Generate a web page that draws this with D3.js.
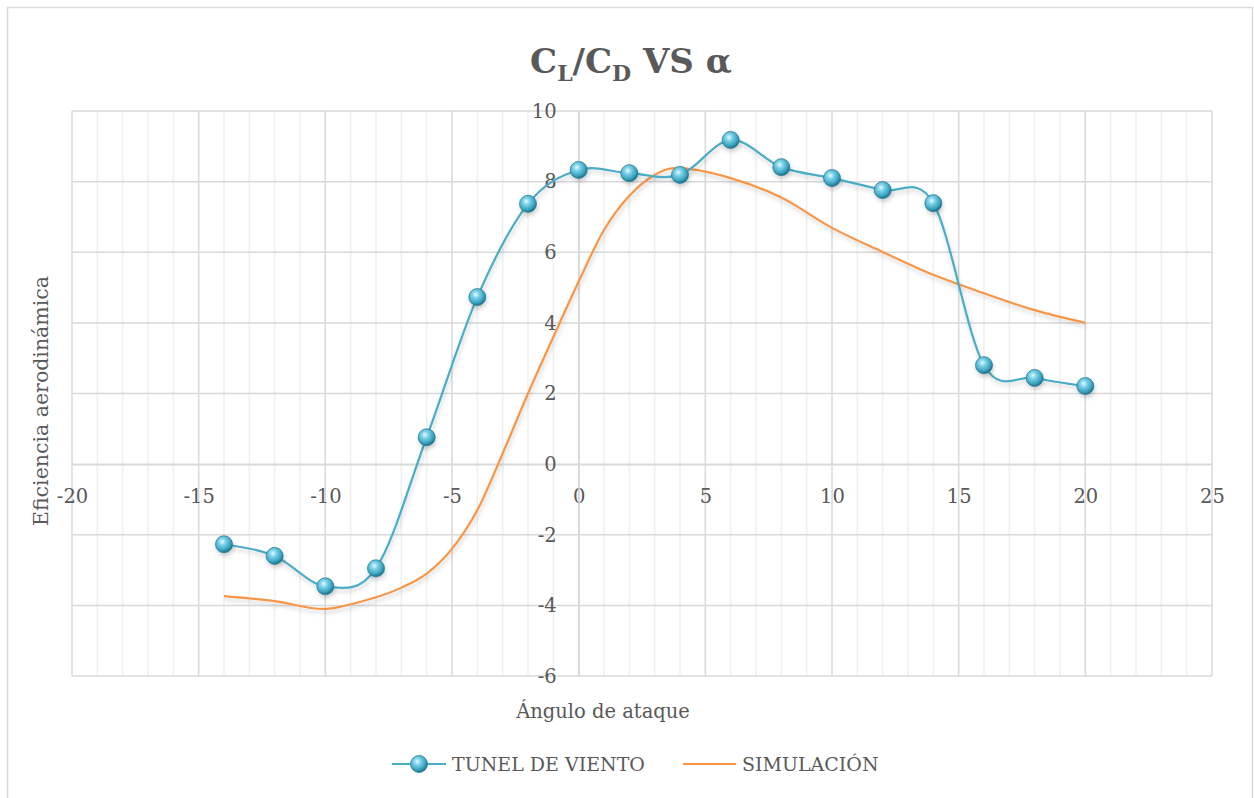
<!DOCTYPE html>
<html><head><meta charset="utf-8">
<script src="https://d3js.org/d3.v7.min.js"></script>
<style>body{margin:0;background:#fff}svg{display:block}</style>
</head><body>
<svg id="c" width="1254" height="798"></svg>
<script>
const tunelX = [-14,-12,-10,-8,-6,-4,-2,0,2,4,6,8,10,12,14,16,18,20];
const tunelY = [-2.27,-2.6,-3.46,-2.95,0.76,4.73,7.37,8.33,8.24,8.19,9.18,8.41,8.1,7.76,7.39,2.8,2.44,2.21];
const simX = [-14,-12,-10,-8,-7,-6,-5,-4,-3,-2,-1,0,1,2,3,4,6,8,10,12,14,16,18,20];
const simY = [-3.74,-3.88,-4.1,-3.77,-3.5,-3.1,-2.4,-1.3,0.3,2.0,3.6,5.17,6.63,7.6,8.19,8.38,8.1,7.55,6.69,6.01,5.36,4.84,4.36,4.0];
const xTicks = [-20,-15,-10,-5,0,5,10,15,20,25];
const yTicks = [-6,-4,-2,0,2,4,6,8,10];
const seriesNames = ["TUNEL DE VIENTO","SIMULACIÓN"];
const colors = ["#4BACC6","#F79646"];

const FONT = "'DejaVu Serif', serif";
const FS = 19.5;
const svg = d3.select("#c");
const L=72,R=1212,T=111,B=676;
const x = d3.scaleLinear().domain([-20,25]).range([L,R]);
const y = d3.scaleLinear().domain([-6,10]).range([B,T]);

svg.append("rect").attr("x",7.5).attr("y",7.5).attr("width",1245).attr("height",800)
  .attr("fill","#fff").attr("stroke","#d9d9d9").attr("stroke-width",1.5);

const defs = svg.append("defs");
const rg = defs.append("radialGradient").attr("id","ball").attr("cx","40%").attr("cy","35%").attr("r","65%");
rg.append("stop").attr("offset","0%").attr("stop-color","#e8fbff");
rg.append("stop").attr("offset","30%").attr("stop-color","#7fd3ea");
rg.append("stop").attr("offset","75%").attr("stop-color","#3aa3c0");
rg.append("stop").attr("offset","100%").attr("stop-color","#1d6f86");
const sh = defs.append("filter").attr("id","sh").attr("x","-20%").attr("y","-20%").attr("width","140%").attr("height","160%");
sh.append("feDropShadow").attr("dx",1).attr("dy",3).attr("stdDeviation",2).attr("flood-color","#000").attr("flood-opacity",0.18);

const minor = d3.range(-20,26,1).filter(v=>v%5!==0);
svg.append("g").selectAll("line").data(minor).join("line")
  .attr("x1",d=>x(d)).attr("x2",d=>x(d)).attr("y1",T).attr("y2",B)
  .attr("stroke","#efefef").attr("stroke-width",1.5);
svg.append("g").selectAll("line").data(xTicks).join("line")
  .attr("x1",d=>x(d)).attr("x2",d=>x(d)).attr("y1",T).attr("y2",B)
  .attr("stroke","#d9d9d9").attr("stroke-width",1.5);
svg.append("g").selectAll("line").data(yTicks).join("line")
  .attr("x1",L).attr("x2",R).attr("y1",d=>y(d)).attr("y2",d=>y(d))
  .attr("stroke","#d9d9d9").attr("stroke-width",1.5);

const fmt = d => String(d);
const xAxis = d3.axisBottom(x).tickValues(xTicks).tickFormat(fmt).tickSize(0).tickPadding(25);
const gx = svg.append("g").attr("transform",`translate(0,${y(0)})`).call(xAxis);
gx.select(".domain").attr("stroke","#d9d9d9").attr("stroke-width",1.5);
gx.selectAll("text").attr("font-family",FONT).attr("font-size",FS).attr("fill","#595959");
const yAxis = d3.axisLeft(y).tickValues(yTicks).tickFormat(fmt).tickSize(0).tickPadding(22);
const gy = svg.append("g").attr("transform",`translate(${x(0)},0)`).call(yAxis);
gy.select(".domain").attr("stroke","#d9d9d9").attr("stroke-width",1.5);
gy.selectAll("text").attr("font-family",FONT).attr("font-size",FS).attr("fill","#595959");

const line = d3.line().x(d=>x(d[0])).y(d=>y(d[1])).curve(d3.curveCardinal.tension(0));
const tunel = tunelX.map((v,i)=>[v,tunelY[i]]);
const sim = simX.map((v,i)=>[v,simY[i]]);
svg.append("path").datum(sim).attr("d",line).attr("fill","none").attr("stroke",colors[1]).attr("stroke-width",2.2).attr("filter","url(#sh)");
svg.append("path").datum(tunel).attr("d",line).attr("fill","none").attr("stroke",colors[0]).attr("stroke-width",2.2).attr("filter","url(#sh)");
svg.append("g").selectAll("circle").data(tunel).join("circle")
  .attr("cx",d=>x(d[0])).attr("cy",d=>y(d[1])).attr("r",8.5)
  .attr("fill","url(#ball)").attr("stroke","#2a7f96").attr("stroke-width",0.8).attr("filter","url(#sh)");

const title = svg.append("text").attr("x",631).attr("y",73).attr("text-anchor","middle")
  .attr("font-family",FONT).attr("font-weight","bold").attr("font-size",34).attr("fill","#595959");
title.append("tspan").text("C");
title.append("tspan").text("L").attr("font-size",22).attr("dy",8);
title.append("tspan").text("/C").attr("dy",-8);
title.append("tspan").text("D").attr("font-size",22).attr("dy",8);
title.append("tspan").text(" VS α").attr("dy",-8);

svg.append("text").attr("x",603).attr("y",718).attr("text-anchor","middle")
  .attr("font-family",FONT).attr("font-size",FS).attr("fill","#595959").text("Ángulo de ataque");
svg.append("text").attr("transform","translate(48,401) rotate(-90)").attr("text-anchor","middle")
  .attr("font-family",FONT).attr("font-size",20.5).attr("fill","#595959").text("Eficiencia aerodinámica");

const lg = svg.append("g");
lg.append("line").attr("x1",392).attr("x2",446).attr("y1",764).attr("y2",764).attr("stroke",colors[0]).attr("stroke-width",2.2);
lg.append("circle").attr("cx",419).attr("cy",764).attr("r",8.5).attr("fill","url(#ball)").attr("stroke","#2a7f96").attr("stroke-width",0.8);
lg.append("text").attr("x",452).attr("y",771).attr("font-family",FONT).attr("font-size",19).attr("fill","#595959").text(seriesNames[0]);
lg.append("line").attr("x1",683).attr("x2",736).attr("y1",764).attr("y2",764).attr("stroke",colors[1]).attr("stroke-width",2.2);
lg.append("text").attr("x",742).attr("y",771).attr("font-family",FONT).attr("font-size",19).attr("fill","#595959").text(seriesNames[1]);
</script>
</body></html>
